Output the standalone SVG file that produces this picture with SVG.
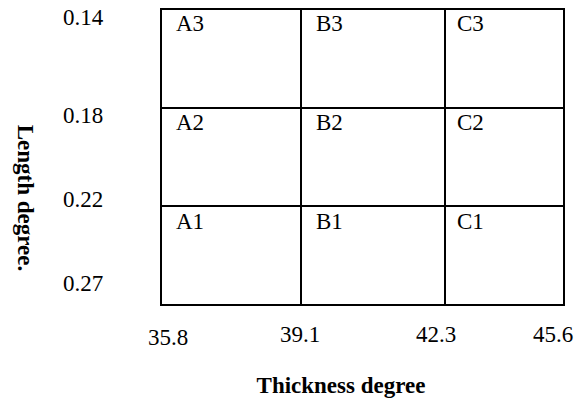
<svg xmlns="http://www.w3.org/2000/svg" width="575" height="405" viewBox="0 0 575 405">
<style>
.t{font-family:"Liberation Serif","Times New Roman",serif;font-size:23px;fill:#000}
.b{font-family:"Liberation Serif","Times New Roman",serif;font-size:23px;font-weight:bold;fill:#000}
.cell{fill:#fff;stroke:#000;stroke-width:2}
</style>
<rect width="575" height="405" fill="#fff"/>
<g id="grid">
<g id="A3"><rect class="cell" x="161" y="9" width="140" height="99"/><text class="t" x="176" y="31">A3</text></g>
<g id="B3"><rect class="cell" x="301" y="9" width="144" height="99"/><text class="t" x="316" y="31">B3</text></g>
<g id="C3"><rect class="cell" x="445" y="9" width="119" height="99"/><text class="t" x="457" y="31">C3</text></g>
<g id="A2"><rect class="cell" x="161" y="108" width="140" height="98"/><text class="t" x="176" y="130">A2</text></g>
<g id="B2"><rect class="cell" x="301" y="108" width="144" height="98"/><text class="t" x="316" y="130">B2</text></g>
<g id="C2"><rect class="cell" x="445" y="108" width="119" height="98"/><text class="t" x="457" y="130">C2</text></g>
<g id="A1"><rect class="cell" x="161" y="206" width="140" height="99"/><text class="t" x="176" y="229">A1</text></g>
<g id="B1"><rect class="cell" x="301" y="206" width="144" height="99"/><text class="t" x="316" y="229">B1</text></g>
<g id="C1"><rect class="cell" x="445" y="206" width="119" height="99"/><text class="t" x="457" y="229">C1</text></g>
</g>
<g id="yaxis">
<text class="t" x="63" y="25">0.14</text>
<text class="t" x="63" y="123">0.18</text>
<text class="t" x="63" y="207">0.22</text>
<text class="t" x="63" y="291">0.27</text>
<text class="b" transform="translate(17.5,198) rotate(90)" text-anchor="middle">Length degree.</text>
</g>
<g id="xaxis">
<text class="t" x="148" y="345">35.8</text>
<text class="t" x="280" y="342">39.1</text>
<text class="t" x="416" y="342">42.3</text>
<text class="t" x="533" y="342">45.6</text>
<text class="b" x="341" y="393" text-anchor="middle">Thickness degree</text>
</g>
</svg>
